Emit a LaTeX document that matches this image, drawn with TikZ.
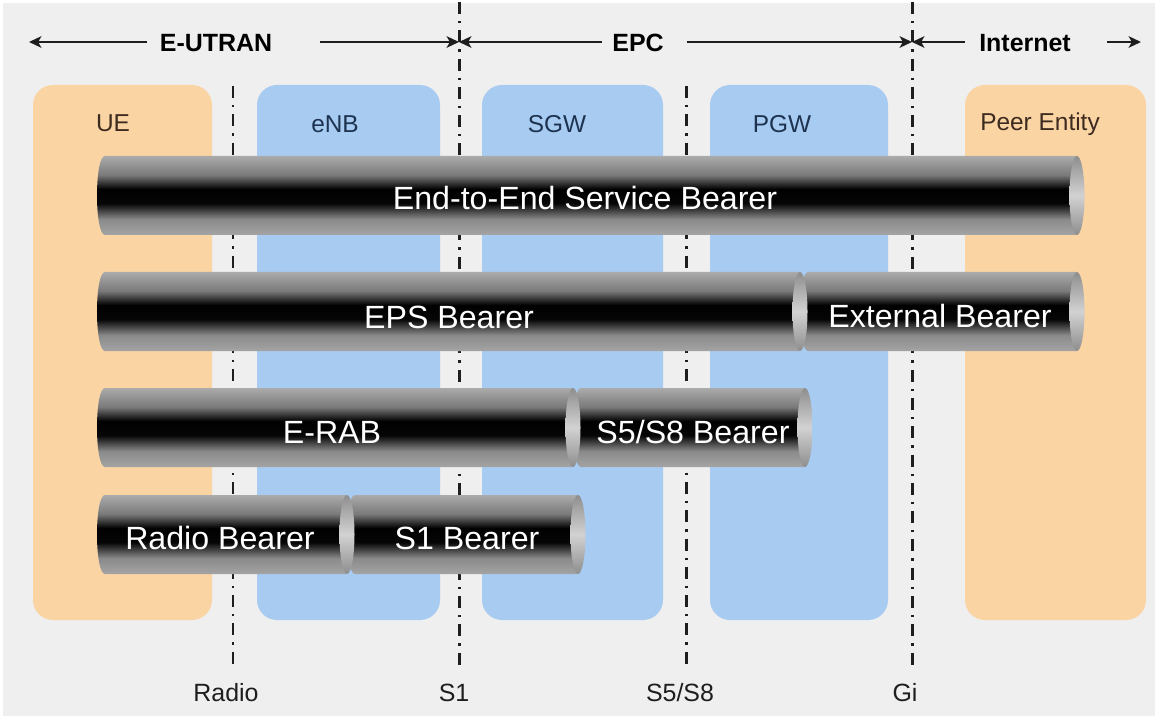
\documentclass[tikz,border=0pt]{standalone}
\usepackage{fontspec}
\setmainfont{Liberation Sans}
\usetikzlibrary{arrows.meta}
\definecolor{bgc}{HTML}{EFEFEF}
\definecolor{orangebox}{HTML}{FBD4A4}
\definecolor{bluebox}{HTML}{A8CBF2}
\definecolor{brownlbl}{HTML}{3D2B1F}
\definecolor{bluelbl}{HTML}{1D3350}
\definecolor{txtdark}{HTML}{1E1E1E}
\definecolor{cA}{HTML}{A4A4A4}
\definecolor{cB}{HTML}{8A8A8A}
\definecolor{cK}{HTML}{060606}
\definecolor{cK2}{HTML}{000000}
\definecolor{cC}{HTML}{7A7A7A}
\definecolor{cT}{HTML}{ABABAB}
\definecolor{p1}{HTML}{8E8E8E}
\definecolor{p2}{HTML}{D2D2D2}
\pgfdeclareverticalshading{cylshade}{100bp}{color(0bp)=(cA); color(25bp)=(cA); color(35bp)=(cB); color(45bp)=(cK); color(54bp)=(cK2); color(63bp)=(cC); color(75bp)=(cT); color(100bp)=(cT)}
\pgfdeclareverticalshading{capshade}{100bp}{color(0bp)=(p1); color(25bp)=(p1); color(50bp)=(p2); color(75bp)=(p1); color(100bp)=(p1)}
\newcommand{\bseg}[4]{%
  \shade[shading=cylshade] (#1+8,#3) -- (#2,#3) -- (#2,#4) -- (#1+8,#4) .. controls (#1-2.67,#4) and (#1-2.67,#3) .. (#1+8,#3) -- cycle;
  \shade[shading=capshade] (#2,{(#3+#4)/2}) ellipse [x radius=0.15cm, y radius=0.79cm];
}
\begin{document}
\begin{tikzpicture}[x=0.02cm,y=-0.02cm,
  entity/.style={rounded corners=0.4cm},
  entlbl/.style={font=\fontsize{13.9}{16}\selectfont, inner sep=0pt},
  btext/.style={font=\fontsize{18.3}{21}\selectfont, text=white, inner sep=0pt},
  toplbl/.style={font=\fontsize{14.2}{16}\selectfont\bfseries, text=black, inner sep=0pt},
  botlbl/.style={font=\fontsize{14.2}{16}\selectfont, text=txtdark, inner sep=0pt},
  divider/.style={line width=1.7pt, dash pattern=on 6.8pt off 4pt on 1.3pt off 4pt, color=txtdark},
  span/.style={line width=1.3pt, color=txtdark, -{Stealth[length=7pt,width=6.5pt,inset=1.8pt]}}
]
% background
\fill[white] (0,0) rectangle (1158,719);
\fill[bgc] (3,3) rectangle (1155,716);
\useasboundingbox (0,0) rectangle (1158,719);

% entity boxes
\fill[orangebox, entity] (33,85) rectangle (212,620);
\fill[bluebox, entity] (257,85) rectangle (440,620);
\fill[bluebox, entity] (482,85) rectangle (663,620);
\fill[bluebox, entity] (710,85) rectangle (888,620);
\fill[orangebox, entity] (965,85) rectangle (1146,620);
\node[entlbl, text=brownlbl] (ue) at (113,123) {UE};
\node[entlbl, text=bluelbl] (enb) at (335,124) {eNB};
\node[entlbl, text=bluelbl] (sgw) at (557,124) {SGW};
\node[entlbl, text=bluelbl] (pgw) at (782,124) {PGW};
\node[entlbl, text=brownlbl] (peer) at (1040,124) {Peer Entity};

% dividers
\coordinate (radT) at (233,86);  \coordinate (radB) at (233,667);
\coordinate (s1T) at (459,2);    \coordinate (s1B) at (459,667);
\coordinate (s58T) at (686,86);  \coordinate (s58B) at (686,665);
\coordinate (giT) at (912,2);    \coordinate (giB) at (912,667);
\draw[divider] (radT) -- (radB);
\draw[divider] (s1T) -- (s1B);
\draw[divider] (s58T) -- (s58B);
\draw[divider] (giT) -- (giB);

% bottom labels
\node[botlbl] (lradio) at (226,693) {Radio};
\node[botlbl] (ls1) at (454,693) {S1};
\node[botlbl] (ls58) at (680,693) {S5/S8};
\node[botlbl] (lgi) at (905,693) {Gi};

% top domain arrows
\node[toplbl] (eutran) at (216,43) {E-UTRAN};
\node[toplbl] (epc) at (638,43) {EPC};
\node[toplbl] (inet) at (1025,43) {Internet};
\coordinate (a1s) at (147,42); \coordinate (a1e) at (29,42);
\coordinate (a2s) at (320,42); \coordinate (x1) at (459,42);
\coordinate (a3s) at (602,42);
\coordinate (a4s) at (687,42); \coordinate (x2) at (912,42);
\coordinate (a5s) at (965,42);
\coordinate (a6s) at (1107,42); \coordinate (a6e) at (1141,42);
\draw[span] (a1s) -- (a1e);
\draw[span] (a2s) -- (x1);
\draw[span] (a3s) -- (x1);
\draw[span] (a4s) -- (x2);
\draw[span] (a5s) -- (x2);
\draw[span] (a6s) -- (a6e);

% bearers (right segments first so left caps overlap joins)
\bseg{97}{1077}{156}{235}
\bseg{800}{1077}{272}{351}
\bseg{97}{800}{272}{351}
\bseg{573}{805}{388}{467}
\bseg{97}{573}{388}{467}
\bseg{347}{578}{495}{574}
\bseg{97}{347}{495}{574}

\node[btext] (e2e) at (585,198) {End-to-End Service Bearer};
\node[btext] (eps) at (449,317) {EPS Bearer};
\node[btext] (ext) at (940,316) {External Bearer};
\node[btext] (erab) at (332,432) {E-RAB};
\node[btext] (s58b) at (693,432) {S5/S8 Bearer};
\node[btext] (rb) at (220,538) {Radio Bearer};
\node[btext] (s1b) at (467,538) {S1 Bearer};
\end{tikzpicture}
\end{document}
